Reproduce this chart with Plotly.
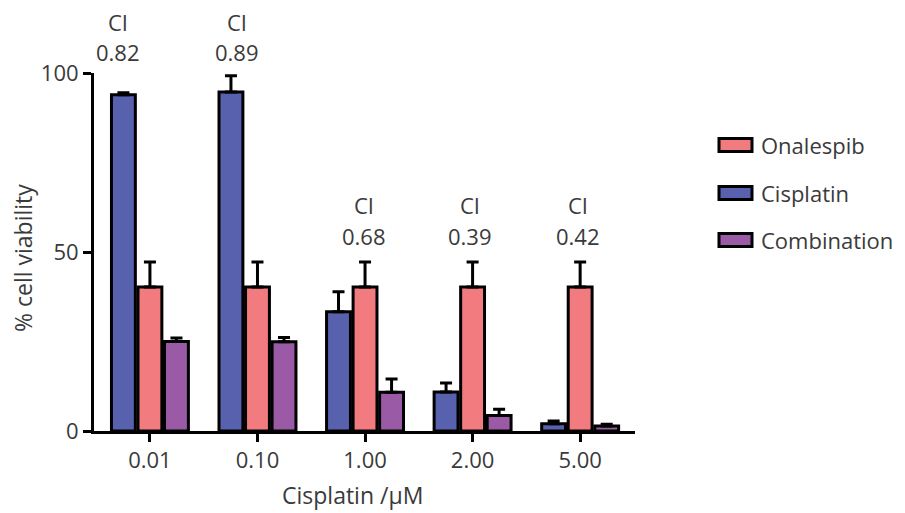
import plotly.graph_objects as go

categories = ["0.01", "0.10", "1.00", "2.00", "5.00"]
cisplatin = [93.9, 94.7, 33.3, 10.9, 2.0]
cisplatin_err = [0.6, 4.5, 5.6, 2.5, 0.8]
onalespib = [40.2, 40.2, 40.2, 40.2, 40.2]
onalespib_err = [7.0, 7.0, 7.0, 7.0, 7.0]
combination = [25.0, 24.9, 10.8, 4.3, 1.4]
combination_err = [1.0, 1.2, 3.7, 1.8, 0.5]
ci_values = ["0.82", "0.89", "0.68", "0.39", "0.42"]

BLUE = "#5861AD"
PINK = "#F27B7F"
PURPLE = "#9A5AA6"
TXT = "#3a3a3a"
FONT = "Open Sans"
FS = 22

# page offset of the plot div (body margin)
OFF = 8
# reference pixel frame of the plot area
RL, RR, RT, RB = 94, 635, 73, 431
L, R, T, B = RL - OFF, RR - OFF, RT - OFF, RB - OFF
W, H = RR - RL, RB - RT

def px(x):
    return (x - RL) / W

def py(y):
    return (RB - y) / H

xpos = list(range(len(categories)))

fig = go.Figure()

def add(name, vals, errs, color):
    fig.add_trace(go.Bar(
        x=xpos, y=vals, name=name,
        marker=dict(color=color, line=dict(color="black", width=3)),
        error_y=dict(type="data", array=errs, arrayminus=[0] * len(errs),
                     symmetric=False, color="black", thickness=3, width=6),
        showlegend=False,
    ))

add("Cisplatin", cisplatin, cisplatin_err, BLUE)
add("Onalespib", onalespib, onalespib_err, PINK)
add("Combination", combination, combination_err, PURPLE)

# CI annotations (layout placement in reference pixels)
ci_px_x = [118, 237, 364, 470, 578]
ci_px_label = [22, 22, 205, 205, 205]
ci_px_val = [52, 52, 236, 236, 236]
for i, v in enumerate(ci_values):
    for txt, yy in (("CI", ci_px_label[i]), (v, ci_px_val[i])):
        fig.add_annotation(x=px(ci_px_x[i]), y=py(yy), text=txt, showarrow=False,
                           xref="paper", yref="paper", xanchor="center", yanchor="middle",
                           font=dict(family=FONT, size=FS, color=TXT))

# Manual legend
legend_items = [("Onalespib", PINK, 145), ("Cisplatin", BLUE, 193), ("Combination", PURPLE, 240)]
for name, color, yc in legend_items:
    fig.add_shape(type="rect", xref="paper", yref="paper",
                  x0=px(719), x1=px(752), y0=py(yc + 6.5), y1=py(yc - 6.5),
                  fillcolor=color, line=dict(color="black", width=3))
    fig.add_annotation(x=px(759), y=py(yc), xref="paper", yref="paper",
                       text=name, showarrow=False, xanchor="left", yanchor="middle",
                       font=dict(family=FONT, size=FS, color=TXT))

# Axis titles
fig.add_annotation(x=px(352), y=py(495), xref="paper", yref="paper",
                   text="Cisplatin /μM", showarrow=False, xanchor="center", yanchor="middle",
                   font=dict(family=FONT, size=FS + 1, color=TXT))
fig.add_annotation(x=px(23), y=py(258), xref="paper", yref="paper",
                   text="% cell viability", showarrow=False, textangle=-90,
                   xanchor="center", yanchor="middle",
                   font=dict(family=FONT, size=FS + 1, color=TXT))

fig.update_layout(
    width=905, height=513,
    margin=dict(l=L, r=905 - R, t=T, b=513 - B, autoexpand=False),
    paper_bgcolor="white", plot_bgcolor="white",
    barmode="group", bargap=0.26, bargroupgap=0.1,
    font=dict(family=FONT, size=FS, color=TXT),
)
fig.update_xaxes(
    range=[-0.52, 4.51], tickvals=xpos, ticktext=categories,
    showline=True, linecolor="black", linewidth=3,
    ticks="outside", ticklen=8, tickwidth=3, tickcolor="black",
    showgrid=False, zeroline=False,
    tickfont=dict(family=FONT, size=FS, color=TXT),
)
fig.update_yaxes(
    range=[0, 100], tickvals=[0, 50, 100],
    showline=True, linecolor="black", linewidth=3,
    ticks="outside", ticklen=8, tickwidth=3, tickcolor="black",
    showgrid=False, zeroline=False,
    tickfont=dict(family=FONT, size=FS, color=TXT),
)

fig.write_html("out.html")
